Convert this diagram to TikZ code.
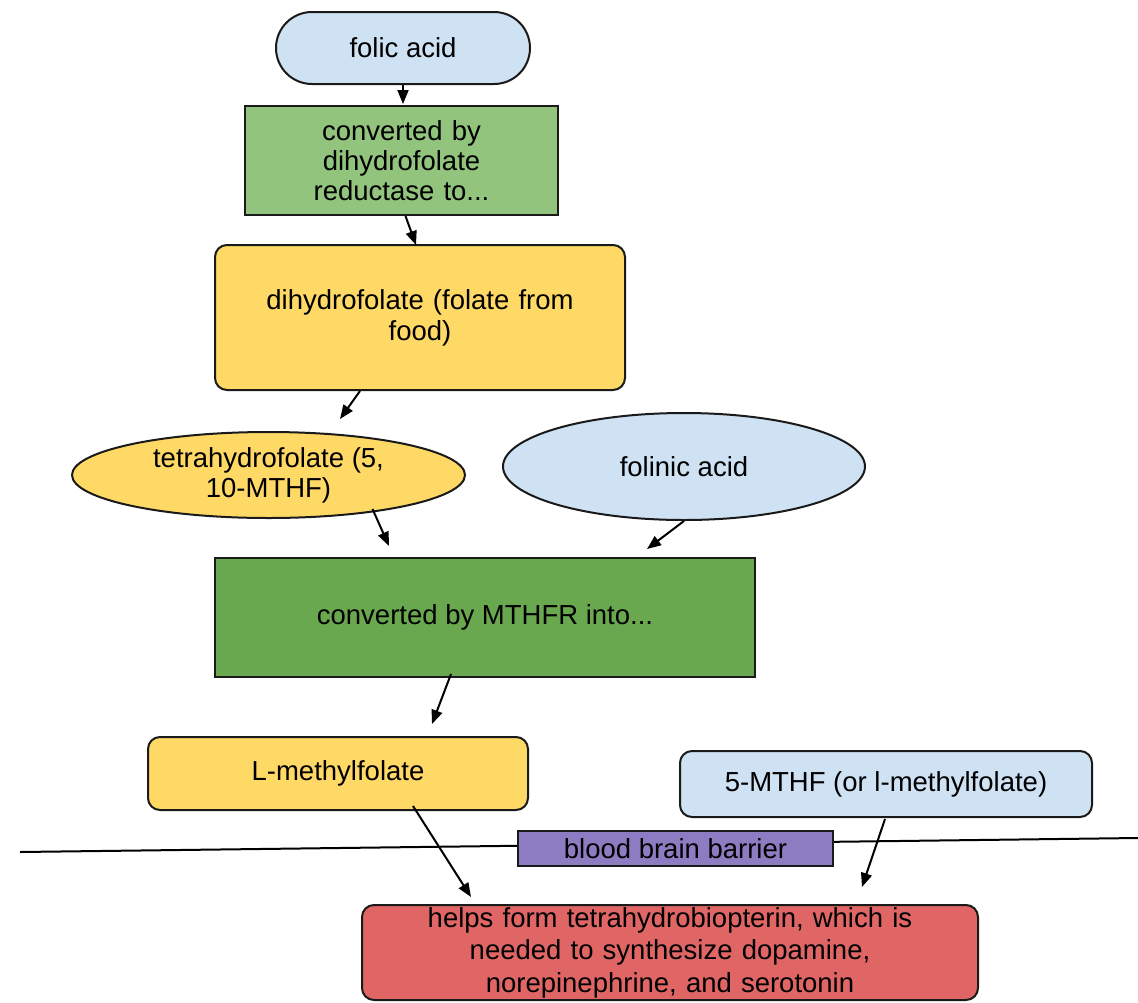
\documentclass[tikz,border=0pt]{standalone}
\usepackage{fontspec}
\setmainfont{Liberation Sans}
\usetikzlibrary{shapes.geometric,shapes.misc,arrows.meta,calc}
\definecolor{cblue}{HTML}{CFE2F3}
\definecolor{cgreenL}{HTML}{93C47D}
\definecolor{cgreenD}{HTML}{6AA84F}
\definecolor{cyellow}{HTML}{FFD966}
\definecolor{cpurple}{HTML}{8E7CC3}
\definecolor{cred}{HTML}{E06666}
\definecolor{cedge}{HTML}{1A1A1A}
\begin{document}
\begin{tikzpicture}[x=1pt,y=-1pt,
  base/.style={draw=cedge,line width=2pt,inner sep=0pt,align=center,
    font=\fontsize{27.5}{30}\selectfont,text=black},
  sqbox/.style={base,rectangle},
  rbox/.style={base,rectangle,rounded corners=12pt},
  oval/.style={base,ellipse},
  arr/.style={draw=black,line width=2pt,-{Triangle[length=14pt,width=11pt]}}]
\useasboundingbox (0,0) rectangle (1138,1002);

% membrane line
\coordinate (mL) at (20,852);
\coordinate (mR) at (1138,838);
\draw[line width=2pt] (mL) -- (mR);

% nodes
\node[base,rounded rectangle,fill=cblue,minimum width=254pt,minimum height=72pt]
  (folic) at (403,48) {folic acid};
\node[sqbox,fill=cgreenL,minimum width=313pt,minimum height=109pt,text width=300pt]
  (dhfr) at (401.5,160.5) {converted by\\dihydrofolate\\reductase to...};
\node[rbox,fill=cyellow,minimum width=410pt,minimum height=145pt,text width=390pt,
  font=\fontsize{27.5}{31}\selectfont]
  (dhf) at (420,317.5) {dihydrofolate (folate from\\food)};
\node[oval,fill=cyellow,minimum width=393pt,minimum height=86pt]
  (thf) at (268.5,475) {tetrahydrofolate (5,\\10-MTHF)};
\node[oval,fill=cblue,minimum width=362pt,minimum height=107pt]
  (folinic) at (684,466.5) {folinic acid};
\node[sqbox,fill=cgreenD,minimum width=540pt,minimum height=119pt]
  (mthfr) at (485,617.5) {converted by MTHFR into...};
\node[rbox,fill=cyellow,minimum width=380pt,minimum height=73pt]
  (lmf) at (338,773.5) {L-methylfolate};
\node[rbox,fill=cblue,minimum width=412pt,minimum height=66pt]
  (mthf) at (886,784) {5-MTHF (or l-methylfolate)};
\node[sqbox,fill=cpurple,minimum width=315pt,minimum height=35pt]
  (bbb) at (675.5,848.5) {blood brain barrier};
\node[rbox,fill=cred,minimum width=616pt,minimum height=95pt,text width=600pt,
  font=\fontsize{27.5}{32.5}\selectfont]
  (bh4) at (670,952.5) {helps form tetrahydrobiopterin, which is\\needed to synthesize dopamine,\\norepinephrine, and serotonin};

% arrow end points (arrows stop short of their targets)
\coordinate (e1) at (403,104);
\coordinate (e2) at (416,245);
\coordinate (e3) at (340,419);
\coordinate (e4) at (389,546);
\coordinate (e5) at (647,549);
\coordinate (e6) at (432,724);
\coordinate (e7) at (471,897);
\coordinate (e8) at (862,887);

% connectors
\draw[arr] (folic.south) -- (e1);
\draw[arr] ($(dhfr.south)+(4,0)$) -- (e2);
\draw[arr] ($(dhf.south)+(-60,0)$) -- (e3);
\draw[arr] ($(thf.south)+(104,-10)$) -- (e4);
\draw[arr] (folinic.south) -- (e5);
\draw[arr] ($(mthfr.south)+(-34,-4)$) -- (e6);
\draw[arr] ($(lmf.south)+(75,-5)$) -- (e7);
\draw[arr] ($(mthf.south)+(-1,1)$) -- (e8);
\end{tikzpicture}
\end{document}
